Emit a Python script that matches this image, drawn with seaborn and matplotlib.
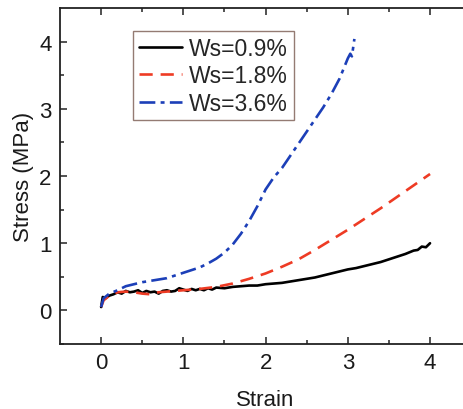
import matplotlib
matplotlib.use("Agg")
import matplotlib.pyplot as plt
import pandas as pd
import seaborn as sns

# 讀出的數據
strain_09 = [0, 0.02, 0.05, 0.1, 0.15, 0.2, 0.25, 0.3, 0.35, 0.4, 0.45, 0.5, 0.55, 0.6, 0.65,
             0.7, 0.75, 0.8, 0.85, 0.9, 0.95, 1.0, 1.05, 1.1, 1.15, 1.2, 1.25, 1.3, 1.35, 1.4,
             1.5, 1.6, 1.7, 1.8, 1.9, 2.0, 2.1, 2.2, 2.3, 2.4, 2.5, 2.6, 2.7, 2.8, 2.9, 3.0,
             3.1, 3.2, 3.3, 3.4, 3.5, 3.6, 3.7, 3.8, 3.85, 3.9, 3.95, 4.0]
stress_09 = [0.05, 0.2, 0.18, 0.22, 0.24, 0.27, 0.25, 0.29, 0.27, 0.28, 0.3, 0.26, 0.29, 0.27,
             0.28, 0.25, 0.29, 0.3, 0.28, 0.29, 0.33, 0.31, 0.29, 0.32, 0.3, 0.32, 0.3, 0.33,
             0.31, 0.34, 0.33, 0.35, 0.36, 0.37, 0.37, 0.39, 0.4, 0.41, 0.43, 0.45, 0.47, 0.49,
             0.52, 0.55, 0.58, 0.61, 0.63, 0.66, 0.69, 0.72, 0.76, 0.8, 0.84, 0.89, 0.9, 0.95,
             0.94, 1.0]

strain_18 = [0, 0.03, 0.1, 0.2, 0.3, 0.4, 0.5, 0.6, 0.7, 0.8, 0.9, 1.0, 1.2, 1.4, 1.6, 1.8,
             2.0, 2.2, 2.4, 2.6, 2.8, 3.0, 3.2, 3.4, 3.6, 3.8, 4.0]
stress_18 = [0.05, 0.15, 0.22, 0.27, 0.28, 0.27, 0.25, 0.24, 0.27, 0.28, 0.29, 0.3, 0.32, 0.35,
             0.4, 0.47, 0.55, 0.65, 0.76, 0.9, 1.05, 1.2, 1.36, 1.52, 1.69, 1.86, 2.03]

strain_36 = [0, 0.03, 0.1, 0.2, 0.3, 0.4, 0.5, 0.6, 0.8, 1.0, 1.1, 1.2, 1.3, 1.4, 1.5, 1.6,
             1.7, 1.8, 1.9, 2.0, 2.1, 2.2, 2.3, 2.4, 2.5, 2.6, 2.7, 2.8, 2.9, 3.0, 3.03, 3.05, 3.08]
stress_36 = [0.05, 0.18, 0.25, 0.3, 0.36, 0.39, 0.42, 0.44, 0.48, 0.56, 0.6, 0.64, 0.7, 0.77,
             0.86, 0.98, 1.14, 1.33, 1.55, 1.8, 1.98, 2.12, 2.3, 2.48, 2.66, 2.84, 3.02, 3.22,
             3.45, 3.75, 3.82, 3.78, 4.04]

labels = ["Ws=0.9%", "Ws=1.8%", "Ws=3.6%"]
colors = ["black", "#ee3b24", "#1c3fb8"]
styles = ["-", (0, (5, 3)), (0, (6, 2, 1.5, 2))]

sns.set_theme(style="ticks")
plt.rcParams['font.family'] = ['Liberation Sans', 'DejaVu Sans']

fig = plt.figure(figsize=(4.63, 4.10), dpi=100)
# 右邊框在原圖中被裁掉
ax = fig.add_axes([0.1296, 0.1585, 0.888, 0.8195])

series = [(strain_09, stress_09), (strain_18, stress_18), (strain_36, stress_36)]
for (x, y), lab, c, ls in zip(series, labels, colors, styles):
    df = pd.DataFrame({"Strain": x, "Stress": y})
    sns.lineplot(data=df, x="Strain", y="Stress", ax=ax, color=c, linestyle=ls,
                 linewidth=1.9, label=lab, sort=False)

ax.set_xlim(-0.5, 4.5)
ax.set_ylim(-0.5, 4.5)
ax.set_xticks([0, 1, 2, 3, 4])
ax.set_yticks([0, 1, 2, 3, 4])
ax.set_xticks([0.5, 1.5, 2.5, 3.5], minor=True)
ax.set_yticks([-0.5, 0.5, 1.5, 2.5, 3.5], minor=True)
ax.tick_params(which="both", direction="in", top=True, right=True, colors="#222222",
               labelcolor="#1a1a1a", labelsize=16)
ax.tick_params(which="major", length=5, width=1.1, pad=6)
ax.tick_params(which="minor", length=3, width=1.1)
for s in ax.spines.values():
    s.set_color("#222222")
    s.set_linewidth(1.3)

ax.set_xlabel("Strain", fontsize=16, color="#1a1a1a", labelpad=11)
ax.set_ylabel("Stress (MPa)", fontsize=16, color="#1a1a1a", labelpad=4)

leg = ax.legend(loc="upper left", bbox_to_anchor=(0.177, 0.932), fontsize=16.5,
                frameon=True, fancybox=False, handlelength=1.9, handletextpad=0.3,
                borderpad=0.25, labelspacing=0.2, borderaxespad=0)
leg.get_frame().set_edgecolor("#7a5a50")
leg.get_frame().set_linewidth(1.0)

fig.savefig("out.png", dpi=100)
